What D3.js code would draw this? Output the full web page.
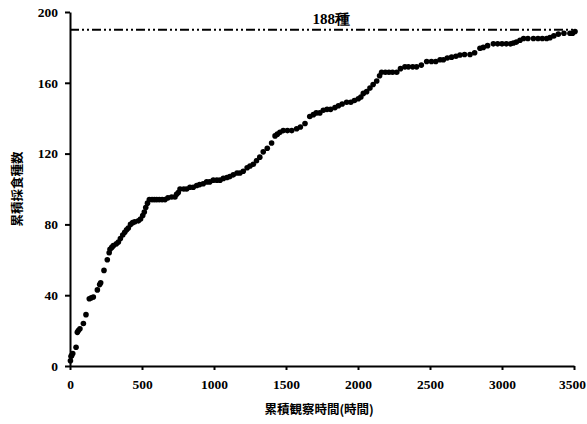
<!DOCTYPE html>
<html>
<head>
<meta charset="utf-8">
<script src="https://cdn.jsdelivr.net/npm/d3@7"></script>
<style>
  body { margin: 0; background: #fff; }
  .tick text { font-family: "Liberation Serif", serif; font-weight: bold; font-size: 13.5px; fill: #000; }
  .ttl { font-family: "Noto Sans CJK JP", sans-serif; font-weight: bold; font-size: 12.5px; fill: #000; }
</style>
</head>
<body>
<svg id="chart" width="587" height="424"></svg>
<script>
// cumulative observation hours
const hours = [3,7,12,19,42,51,58,69,93,111,134,148,162,190,206,213,236,259,272,278,290,301,322,336,350,366,380,393,405,420,435,450,475,490,505,516,526,538,551,570,586,602,620,640,660,680,706,729,740,752,764,790,810,833,856,880,900,925,949,970,995,1020,1042,1065,1090,1110,1134,1160,1180,1203,1230,1250,1273,1295,1318,1342,1370,1400,1424,1440,1458,1481,1510,1540,1574,1600,1632,1665,1690,1710,1735,1759,1785,1810,1840,1864,1890,1921,1950,1975,2002,2020,2037,2060,2083,2105,2130,2150,2164,2190,2215,2240,2269,2295,2326,2350,2380,2407,2440,2477,2510,2540,2570,2593,2620,2650,2680,2708,2740,2778,2810,2847,2870,2900,2940,2970,3000,3030,3060,3079,3100,3125,3150,3180,3218,3250,3280,3310,3333,3360,3391,3430,3472,3490,3507];
// cumulative number of food species
const species = [3,5.5,6,7,10.6,19,20,21,24,29,38,38.5,39,43,46,47,54,60,64,66,67,68,69,70,72,74,75.5,77,78,80,81,81.5,82,83,85,87,89.5,92,94,94,94,94,94,94,94,95,95.5,95.5,97,98,100,100,100,101,101,102,102.5,103,104,104,105,105,105,106,106.5,107,108,109,109,110,112,113,114,116,118,121,123,126,130,131,132,133,133,133,134,135,137,141,142,143,143,144.5,145,145,146,147,148,149,149,150,151,152,154,155,157,159,161,164,166,166,166,166,166,168,169,169,169,169,170,172,172,172,173,173,174,174.5,175,175.7,176,176,177,179.5,180,181,182,182,182,182,182,182.5,183,184,185,185,185,185,185,185,185.5,186.5,187.5,188,188,188,189];

const xTicks = [0,500,1000,1500,2000,2500,3000,3500];
const yTicks = [0,40,80,120,160,200];
const totalLine = 190;
const totalLabel = "188種";
const xTitle = "累積観察時間(時間)";
const yTitle = "累積採食種数";

const svg = d3.select("#chart"),
      margin = {top: 12, right: 13, bottom: 58, left: 70},
      width = 587 - margin.left - margin.right,
      height = 424 - margin.top - margin.bottom;

const x = d3.scaleLinear().domain([0, 3500]).range([0, width]);
const y = d3.scaleLinear().domain([0, 200]).range([height, 0]);

const g = svg.append("g").attr("transform", `translate(${margin.left},${margin.top})`);

// x axis
const xAxis = g.append("g")
  .attr("transform", `translate(0,${height})`)
  .call(d3.axisBottom(x).tickValues(xTicks).tickFormat(d3.format("d"))
    .tickSize(4).tickSizeOuter(0).tickPadding(9));
xAxis.select(".domain").attr("stroke-width", 2);
xAxis.selectAll(".tick line").attr("stroke-width", 2);
xAxis.selectAll(".tick text").filter(d => d === 3500).attr("dx", -2);

// y axis
const yAxis = g.append("g")
  .call(d3.axisLeft(y).tickValues(yTicks).tickSize(5).tickSizeOuter(0).tickPadding(7));
yAxis.select(".domain").attr("stroke-width", 2);
yAxis.selectAll(".tick line").attr("stroke-width", 2);

// total species line
g.append("line")
  .attr("x1", x(0)).attr("x2", x(3500))
  .attr("y1", y(totalLine)).attr("y2", y(totalLine))
  .attr("stroke", "#000").attr("stroke-width", 2)
  .attr("stroke-dasharray", "9,3,2,3,2,3");

g.append("text")
  .attr("x", x(1815)).attr("y", y(totalLine) - 6)
  .attr("text-anchor", "middle")
  .style("font-family", "Liberation Serif, serif")
  .style("font-weight", "bold").style("font-size", "15px")
  .text(totalLabel);

// points
g.selectAll(".dot")
  .data(hours.map((h, i) => ({h: h, s: species[i]})))
  .enter().append("circle")
  .attr("class", "dot")
  .attr("cx", d => x(d.h))
  .attr("cy", d => y(d.s))
  .attr("r", 2.8)
  .attr("fill", "#000");

// titles
svg.append("text").attr("class", "ttl")
  .attr("x", margin.left + x(1730)).attr("y", 414)
  .attr("text-anchor", "middle")
  .text(xTitle);

svg.append("text").attr("class", "ttl")
  .attr("transform", `translate(22,${margin.top + y(100)}) rotate(-90)`)
  .attr("text-anchor", "middle")
  .text(yTitle);
</script>
</body>
</html>
